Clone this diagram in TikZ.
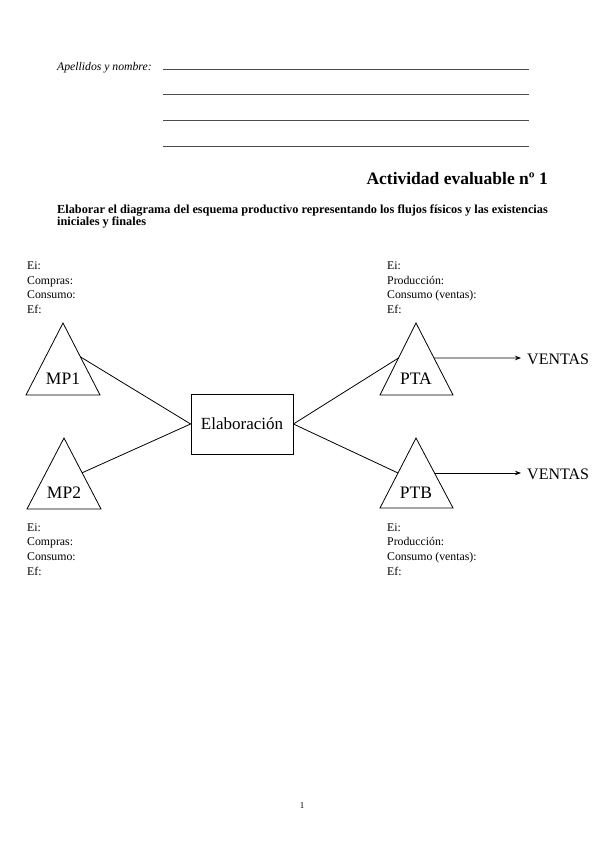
\documentclass[tikz,border=0pt]{standalone}
\usepackage{fontspec}
\setmainfont{Liberation Serif}
\usetikzlibrary{arrows.meta,calc}
\begin{document}
\begin{tikzpicture}[x=1pt,y=-1pt,
  lbl/.style={anchor=base west,inner sep=0pt,font=\fontsize{11.8}{13}\selectfont},
  big/.style={anchor=base,inner sep=0pt,font=\fontsize{17.5}{19}\selectfont},
  tri/.style={draw,line width=0.8pt,line join=miter},
  conn/.style={line width=0.8pt},
  rule/.style={line width=0.5pt,black!70},
  arr/.style={line width=0.8pt,-{Stealth[length=6pt,width=4.5pt]}}]
\useasboundingbox (0,0) rectangle (599,848);
% header
\node[anchor=base west,inner sep=0pt,font=\fontsize{11.7}{13}\selectfont\itshape] (ap) at (57,71) {Apellidos y nombre:};
\coordinate (l1a) at (163,69);  \coordinate (l1b) at (529,69);
\coordinate (l2a) at (163,94);  \coordinate (l2b) at (529,94);
\coordinate (l3a) at (163,120); \coordinate (l3b) at (529,120);
\coordinate (l4a) at (163,146); \coordinate (l4b) at (529,146);
\draw[rule] (l1a) -- (l1b);
\draw[rule] (l2a) -- (l2b);
\draw[rule] (l3a) -- (l3b);
\draw[rule] (l4a) -- (l4b);
\node[anchor=base east,inner sep=0pt,font=\fontsize{17.5}{20}\selectfont\bfseries] (title) at (548,184) {Actividad evaluable nº 1};
\node[anchor=base west,inner sep=0pt,font=\fontsize{12.3}{13}\selectfont\bfseries] (desc1) at (57,213) {Elaborar el diagrama del esquema productivo representando los flujos físicos y las existencias};
\node[anchor=base west,inner sep=0pt,font=\fontsize{12.3}{13}\selectfont\bfseries] (desc2) at (57,225) {iniciales y finales};
% left top labels
\node[lbl] (a1) at (27,269.5) {Ei:};
\node[lbl] (a2) at (27,284.2) {Compras:};
\node[lbl] (a3) at (27,298.9) {Consumo:};
\node[lbl] (a4) at (27,313.6) {Ef:};
% left bottom labels
\node[lbl] (b1) at (27,531) {Ei:};
\node[lbl] (b2) at (27,545.7) {Compras:};
\node[lbl] (b3) at (27,560.4) {Consumo:};
\node[lbl] (b4) at (27,575.1) {Ef:};
% right top labels
\node[lbl] (c1) at (387,269.5) {Ei:};
\node[lbl] (c2) at (387,284.2) {Producción:};
\node[lbl] (c3) at (387,298.9) {Consumo (ventas):};
\node[lbl] (c4) at (387,313.6) {Ef:};
% right bottom labels
\node[lbl] (d1) at (387,531) {Ei:};
\node[lbl] (d2) at (387,545.7) {Producción:};
\node[lbl] (d3) at (387,560.4) {Consumo (ventas):};
\node[lbl] (d4) at (387,575.1) {Ef:};
% triangles
\coordinate (mp1t) at (63,323); \coordinate (mp1l) at (26,395); \coordinate (mp1r) at (100,395);
\coordinate (mp2t) at (64,438); \coordinate (mp2l) at (27,509); \coordinate (mp2r) at (101,509);
\coordinate (ptat) at (416,323); \coordinate (ptal) at (380,395); \coordinate (ptar) at (453,395);
\coordinate (ptbt) at (416,438); \coordinate (ptbl) at (380,508); \coordinate (ptbr) at (453,508);
\draw[tri] (mp1t) -- (mp1r) -- (mp1l) -- cycle;
\draw[tri] (mp2t) -- (mp2r) -- (mp2l) -- cycle;
\draw[tri] (ptat) -- (ptar) -- (ptal) -- cycle;
\draw[tri] (ptbt) -- (ptbr) -- (ptbl) -- cycle;
\node[big] (mp1) at (63,384) {MP1};
\node[big] (mp2) at (64,498) {MP2};
\node[big] (pta) at (416,384) {PTA};
\node[big] (ptb) at (416,498) {PTB};
% box
\node[draw,line width=0.8pt,minimum width=102pt,minimum height=60pt,inner sep=0pt,
      font=\fontsize{17}{19}\selectfont] (elab) at (242,424) {Elaboración};
% edge points
\coordinate (mp1e) at ($(mp1t)!0.47!(mp1r)$);
\coordinate (mp2e) at ($(mp2t)!0.49!(mp2r)$);
\coordinate (ptae) at ($(ptat)!0.486!(ptal)$);
\coordinate (ptbe) at ($(ptbt)!0.5!(ptbl)$);
\coordinate (ptao) at ($(ptat)!0.486!(ptar)$);
\coordinate (ptbo) at ($(ptbt)!0.5!(ptbr)$);
\draw[conn] (mp1e) -- (elab.west);
\draw[conn] (mp2e) -- (elab.west);
\draw[conn] (elab.east) -- (ptae);
\draw[conn] (elab.east) -- (ptbe);
% ventas
\node[anchor=west,inner sep=0pt,font=\fontsize{16}{19}\selectfont] (v1) at (527,359) {VENTAS};
\node[anchor=west,inner sep=0pt,font=\fontsize{16}{19}\selectfont] (v2) at (527,474) {VENTAS};
\coordinate (v1e) at (521,358);
\coordinate (v2e) at (521,473);
\draw[arr] (ptao) -- (v1e);
\draw[arr] (ptbo) -- (v2e);
% page number
\node[anchor=base,inner sep=0pt,font=\fontsize{9}{11}\selectfont] (pg) at (302,808) {1};
\end{tikzpicture}
\end{document}
